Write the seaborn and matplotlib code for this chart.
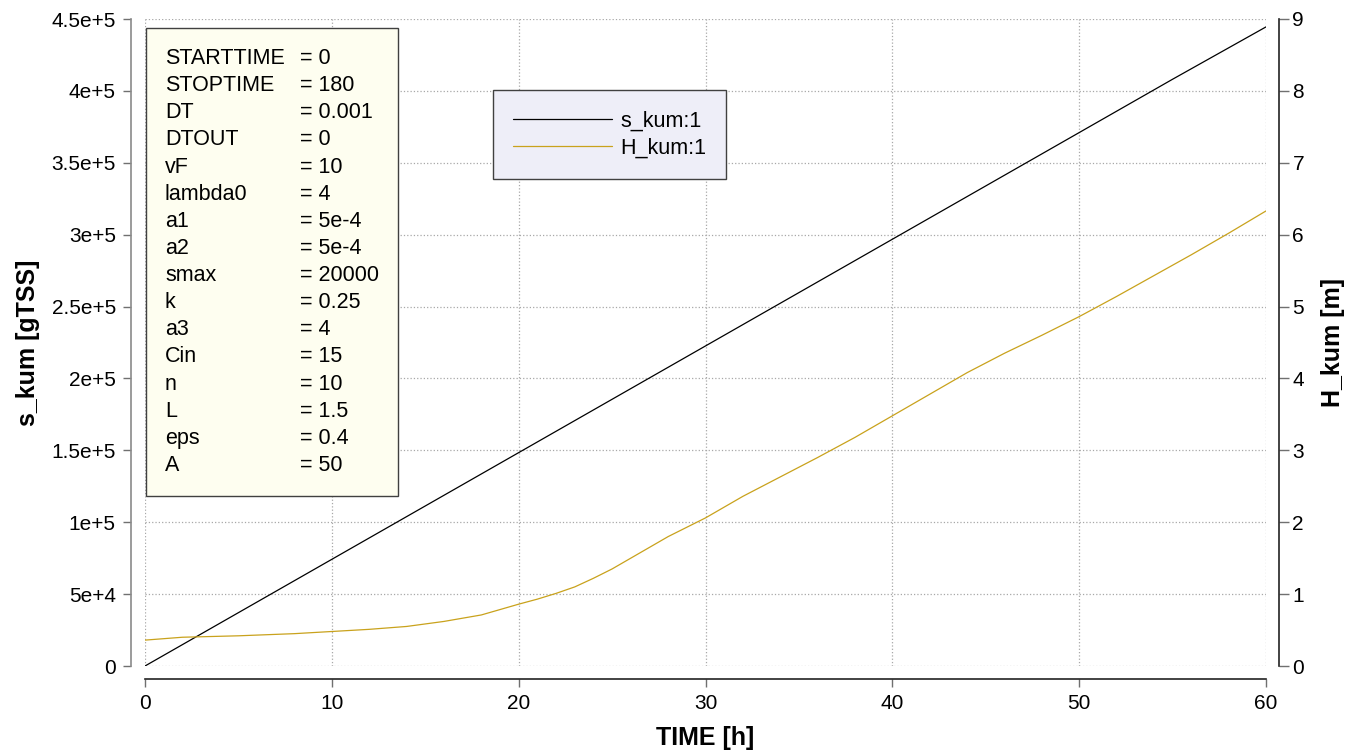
#!/usr/bin/env python3
# coding=utf-8
from matplotlib import pyplot as plt
from matplotlib.lines import Line2D
from matplotlib.patches import Rectangle
import pandas as pd
import seaborn as sns

# s_kum [gTSS]
s_time = [0, 5, 10, 15, 20, 25, 30, 35, 40, 45, 50, 55, 60]
s_kum = [0, 37100, 74200, 111300, 148400, 185500, 222600,
         259700, 296800, 333900, 371000, 408100, 444500]

# H_kum [m]
h_time = [0, 2, 5, 8, 10, 12, 14, 16, 18, 20, 21, 22, 23, 24, 25, 26, 27,
          28, 30, 32, 34, 36, 38, 40, 42, 44, 46, 48, 50, 52, 54, 56, 58, 60]
h_kum = [0.36, 0.40, 0.42, 0.45, 0.48, 0.51, 0.55, 0.62, 0.71, 0.86,
         0.93, 1.01, 1.10, 1.22, 1.35, 1.50, 1.65, 1.80, 2.06, 2.36, 2.63,
         2.90, 3.18, 3.48, 3.78, 4.08, 4.35, 4.60, 4.86, 5.14, 5.43, 5.72,
         6.02, 6.33]

x_ticks = [0, 10, 20, 30, 40, 50, 60]
s_ticks = [0, 5e4, 1e5, 1.5e5, 2e5, 2.5e5, 3e5, 3.5e5, 4e5, 4.5e5]
s_tick_labels = ['0', '5e+4', '1e+5', '1.5e+5', '2e+5', '2.5e+5',
                 '3e+5', '3.5e+5', '4e+5', '4.5e+5']
h_ticks = [0, 1, 2, 3, 4, 5, 6, 7, 8, 9]

# simulation parameters shown in the box
param_names = ['STARTTIME', 'STOPTIME', 'DT', 'DTOUT', 'vF', 'lambda0',
               'a1', 'a2', 'smax', 'k', 'a3', 'Cin', 'n', 'L', 'eps', 'A']
param_values = ['0', '180', '0.001', '0', '10', '4', '5e-4', '5e-4',
                '20000', '0.25', '4', '15', '10', '1.5', '0.4', '50']

series_names = ['s_kum:1', 'H_kum:1']
s_color = 'black'
h_color = '#c9a21c'

sns.set_theme(style='white')
plt.rcParams['font.family'] = ['Liberation Sans', 'DejaVu Sans']
plt.rcParams['text.color'] = 'black'
plt.rcParams['axes.labelcolor'] = 'black'
plt.rcParams['xtick.labelcolor'] = 'black'
plt.rcParams['ytick.labelcolor'] = 'black'

df_s = pd.DataFrame({'TIME': s_time, 's_kum': s_kum})
df_h = pd.DataFrame({'TIME': h_time, 'H_kum': h_kum})

fig = plt.figure(figsize=(13.56, 7.52), dpi=100)
# plot area in pixels: x 145..1266, y 19..666
ax = fig.add_axes([145 / 1356, 86 / 752, 1121 / 1356, 647 / 752])
ax2 = ax.twinx()

sns.lineplot(data=df_s, x='TIME', y='s_kum', ax=ax, color=s_color,
             linewidth=0.9, legend=False)
sns.lineplot(data=df_h, x='TIME', y='H_kum', ax=ax2, color=h_color,
             linewidth=0.9, legend=False)

ax.set_xlim(0, 60)
ax.set_ylim(0, 4.5e5)
ax2.set_ylim(0, 9)
ax.set_xticks(x_ticks)
ax.set_yticks(s_ticks)
ax.set_yticklabels(s_tick_labels)
ax2.set_yticks(h_ticks)

# dotted grid
ax.grid(True, linestyle=':', color='#a8a8a8', linewidth=0.9)
ax.set_axisbelow(True)

# detached spines
for a in (ax, ax2):
    a.spines['top'].set_visible(False)
ax.spines['right'].set_visible(False)
ax2.spines['left'].set_visible(False)
ax2.spines['bottom'].set_visible(False)
ax.spines['left'].set_position(('outward', 10))
ax.spines['bottom'].set_position(('outward', 9.5))
ax2.spines['right'].set_position(('outward', 9))
ax.spines['left'].set_color('#8a8a8a')
ax.spines['bottom'].set_color('#222222')
ax2.spines['right'].set_color('#222222')
for sp in (ax.spines['left'], ax.spines['bottom'], ax2.spines['right']):
    sp.set_linewidth(1.2)

ax.tick_params(axis='y', direction='out', length=6, width=1, color='#707070',
               labelsize=15, pad=5, left=True)
ax.tick_params(axis='x', direction='out', length=6, width=1, color='#707070',
               labelsize=15, pad=5, bottom=True)
ax2.tick_params(axis='y', direction='out', length=7, width=1, color='#707070',
                labelsize=15, pad=3, right=True)

ax.set_xlabel('TIME [h]', fontsize=18, fontweight='bold', labelpad=9)
ax.set_ylabel('s_kum [gTSS]', fontsize=18, fontweight='bold', labelpad=8)
ax2.set_ylabel('H_kum [m]', fontsize=18, fontweight='bold', labelpad=12)


def px_x(x):
    return (x - 145) / 1121


def px_y(y):
    return (666 - y) / 647


# parameter box
ax.add_patch(Rectangle((px_x(146), px_y(496)), px_x(398) - px_x(146),
                       px_y(28) - px_y(496), transform=ax.transAxes,
                       facecolor='#fefef0', edgecolor='#404040',
                       linewidth=1.0, zorder=3))
for i, (name, val) in enumerate(zip(param_names, param_values)):
    yb = px_y(64 + 27.13 * i)
    ax.text(px_x(165), yb, name, transform=ax.transAxes, fontsize=15.5,
            va='baseline', ha='left', zorder=4)
    ax.text(px_x(300), yb, '= ' + val, transform=ax.transAxes, fontsize=15.5,
            va='baseline', ha='left', zorder=4)

# legend box
handles = [Line2D([], [], color=s_color, linewidth=0.9),
           Line2D([], [], color=h_color, linewidth=0.9)]
leg = ax2.legend(handles, series_names, loc='upper left',
                 bbox_to_anchor=(px_x(493), px_y(90)), fontsize=15.5,
                 handlelength=4.6, handletextpad=0.35, borderpad=0.95,
                 labelspacing=0.3, borderaxespad=0, fancybox=False,
                 frameon=True, framealpha=1)
leg.get_frame().set_facecolor('#eeeef8')
leg.get_frame().set_edgecolor('#404040')
leg.get_frame().set_linewidth(1.0)

plt.savefig('out.png', dpi=100)
